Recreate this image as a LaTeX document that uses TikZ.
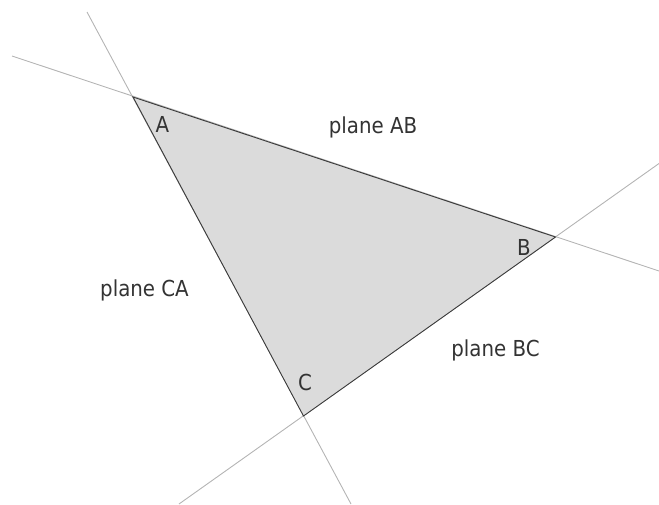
\documentclass[tikz,border=0pt]{standalone}
\usepackage{fontspec}
\setmainfont{DejaVu Sans Condensed}
\usepackage{xcolor}
\usepackage{tikz}
\usetikzlibrary{positioning,calc}
\definecolor{facegray}{HTML}{DBDBDB}
\definecolor{edgegray}{HTML}{3A3A3A}
\definecolor{planegray}{HTML}{B4B4B4}
\tikzstyle{planeline} = [draw=planegray, line width=0.9pt]
\tikzstyle{face} = [fill=facegray, draw=edgegray, line width=0.9pt, line join=miter]
\tikzstyle{corner} = [font=\fontsize{22}{26}\selectfont, text=black!80, inner sep=0pt]
\tikzstyle{planelabel} = [font=\fontsize{22}{26}\selectfont, text=black!80, inner sep=0pt]

\begin{document}
\begin{tikzpicture}[x=1pt, y=-1pt]
    \useasboundingbox (0,0) rectangle (659,504);
    % vertices
    \coordinate (A) at (133,97);
    \coordinate (B) at (555.5,237);
    \coordinate (C) at (303.5,416);
    % ends of the planes
    \coordinate (AB1) at (12,56);
    \coordinate (AB2) at (659,271);
    \coordinate (CA1) at (87,12);
    \coordinate (CA2) at (351,504);
    \coordinate (BC1) at (659,163.5);
    \coordinate (BC2) at (179,504);
    \draw[planeline] (AB1) -- (AB2);
    \draw[planeline] (CA1) -- (CA2);
    \draw[planeline] (BC1) -- (BC2);
    \draw[face] (A) -- (B) -- (C) -- cycle;
    \node[corner] (LA) at (162.5,124.5) {A};
    \node[corner] (LB) at (524,247) {B};
    \node[corner] (LC) at (305,382) {C};
    \node[planelabel] (PAB) at (373,127.5) {plane AB};
    \node[planelabel] (PCA) at (144.5,290) {plane CA};
    \node[planelabel] (PBC) at (495.5,350) {plane BC};
\end{tikzpicture}
\end{document}
